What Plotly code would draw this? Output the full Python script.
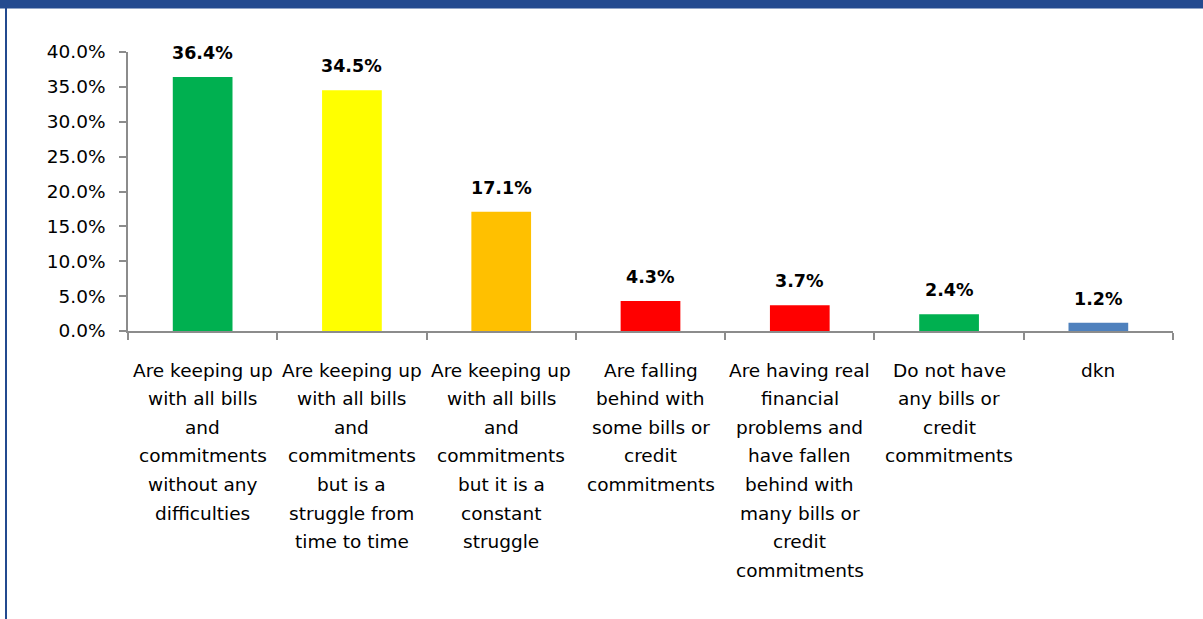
import plotly.graph_objects as go

# Survey answers (one line per entry in each label)
categories = [
    ["Are keeping up", "with all bills", "and", "commitments", "without any", "difficulties"],
    ["Are keeping up", "with all bills", "and", "commitments", "but is a", "struggle from", "time to time"],
    ["Are keeping up", "with all bills", "and", "commitments", "but it is a", "constant", "struggle"],
    ["Are falling", "behind with", "some bills or", "credit", "commitments"],
    ["Are having real", "financial", "problems and", "have fallen", "behind with", "many bills or", "credit", "commitments"],
    ["Do not have", "any bills or", "credit", "commitments"],
    ["dkn"],
]
values = [36.4, 34.5, 17.1, 4.3, 3.7, 2.4, 1.2]
colors = ["#00B050", "#FFFF00", "#FFC000", "#FF0000", "#FF0000", "#00B050", "#4F81BD"]
y_ticks = [0, 5, 10, 15, 20, 25, 30, 35, 40]

W, H = 1203, 619
L, R, T, B = 128, 30, 52, 288
FONT = "DejaVu Sans"

keys = [" ".join(c) for c in categories]

# Pixel -> paper helpers for the frame decoration
pw, ph = W - L - R, H - T - B
def px_x(x):
    return (x - L) / pw
def px_y(y):
    return (H - B - y) / ph

fig = go.Figure(go.Bar(
    x=keys, y=values,
    marker=dict(color=colors, line=dict(width=0)),
    width=0.4,
    hoverinfo="skip",
))

annotations = []
for k, v in zip(keys, values):
    annotations.append(dict(
        x=k, y=v, xref="x", yref="y", text=f"<b>{v:.1f}%</b>",
        showarrow=False, yanchor="middle", yshift=24,
        font=dict(family=FONT, size=17.5, color="#000000"),
    ))
for k, lines in zip(keys, categories):
    for i, line in enumerate(lines):
        annotations.append(dict(
            x=k, y=0, xref="x", yref="paper", text=line,
            showarrow=False, yanchor="middle", yshift=-(39 + 28.6 * i),
            font=dict(family=FONT, size=18.5, color="#000000"),
        ))

shapes = [
    # dark band along the top
    dict(type="rect", xref="paper", yref="paper",
         x0=px_x(0), x1=px_x(W), y0=px_y(8.5), y1=px_y(0),
         fillcolor="#234A8F", line=dict(width=0), layer="above"),
    # left frame edge
    dict(type="line", xref="paper", yref="paper",
         x0=px_x(6), x1=px_x(6), y0=px_y(0), y1=px_y(H),
         line=dict(color="#234A8F", width=2)),
]

fig.update_layout(
    width=W, height=H,
    margin=dict(l=L, r=R, t=T, b=B),
    paper_bgcolor="#FFFFFF", plot_bgcolor="#FFFFFF",
    showlegend=False,
    bargap=0.6,
    annotations=annotations,
    shapes=shapes,
    xaxis=dict(
        type="category", showgrid=False, zeroline=False,
        showline=True, linecolor="#8C8C8C", linewidth=1.5,
        ticks="outside", ticklen=7, tickcolor="#8C8C8C", tickwidth=1.5,
        tickson="boundaries", showticklabels=False,
    ),
    yaxis=dict(
        range=[0, 40], tickvals=y_ticks,
        ticktext=[f"{t:.1f}%" for t in y_ticks],
        showgrid=False, zeroline=False,
        showline=True, linecolor="#8C8C8C", linewidth=1.5,
        ticks="outside", ticklen=7, tickcolor="#8C8C8C", tickwidth=1.5,
        tickfont=dict(family=FONT, size=18.5, color="#000000"),
        ticklabelstandoff=10,
    ),
)

fig.write_html("out.html")
